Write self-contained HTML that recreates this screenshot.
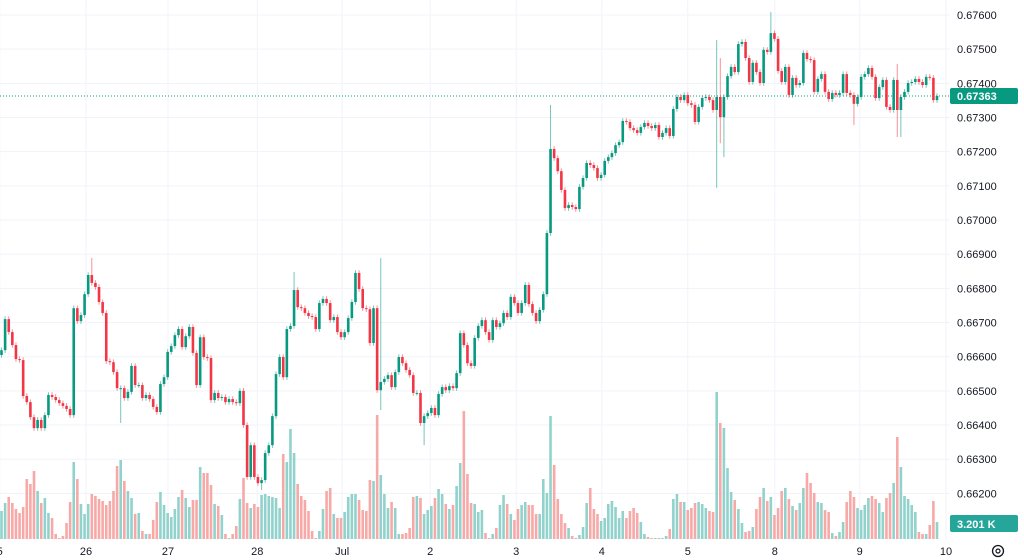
<!DOCTYPE html>
<html><head><meta charset="utf-8">
<style>
html,body{margin:0;padding:0;background:#fff;}
body{width:1024px;height:560px;overflow:hidden;font-family:"Liberation Sans",sans-serif;}
svg{display:block;}
</style></head>
<body>
<svg id="chart" width="1024" height="560" xmlns="http://www.w3.org/2000/svg"></svg>
<script>
// ---- data (closes & highs/lows in 1e-5 units above 0.66000) ----
const closes = [
619,710,672,634,593,590,485,467,423,391,415,391,429,488,482,473,464,456,447,429,
742,704,722,783,839,816,804,760,728,587,584,555,508,508,479,497,573,517,517,479,
488,476,453,438,520,540,614,631,663,681,628,660,687,611,517,657,599,596,473,494,
479,482,467,476,467,464,500,400,248,341,248,230,239,318,341,426,549,599,540,681,
690,795,745,742,728,719,716,681,757,769,757,707,716,672,
657,672,713,760,845,798,742,739,640,742,502,526,535,546,511,555,599,581,561,546,
494,494,406,426,435,450,429,491,511,502,514,508,552,669,634,581,573,655,690,707,
672,649,707,687,698,728,716,775,757,728,757,810,754,728,704,737,783,962,1208,1181,
1143,1088,1035,1044,1038,1032,1097,1123,1167,1161,1152,1123,1132,1173,1184,1196,1219,1228,1290,1287,
1269,1263,1255,1272,1284,1275,1269,1278,1243,1255,1269,1246,1325,1360,
1351,1366,1342,1337,1287,1331,1357,1360,1351,1322,1360,1301,1360,1421,1448,1433,1515,1521,1474,1404,
1460,1433,1401,1498,1492,1547,1530,1436,1404,1448,1366,1416,1395,1401,1489,1471,1468,1375,1413,1427,
1375,1354,1372,1366,1372,1427,1372,1366,1340,1360,1419,1427,1445,1419,1357,1389,1410,1331,1322,1410,
1322,1360,1375,1401,1404,1413,1404,1395,1419,1416,1351,1363];
const firstOpen = 605;
const volumes = [
28,36,42,36,30,26,32,60,55,68,48,36,41,26,21,5,1,3,16,37,77,60,35,25,35,45,43,40,38,34,
38,48,73,79,58,48,41,25,26,8,5,5,19,37,47,34,26,22,30,42,49,41,32,39,39,72,66,66,54,35,
33,24,5,1,5,13,40,61,36,31,35,32,44,45,43,42,41,31,85,77,110,86,55,43,39,28,8,1,8,30,48,51,25,21,
21,27,42,45,45,39,29,28,59,58,124,64,45,31,37,31,5,5,6,11,42,43,41,25,29,33,41,50,45,35,
30,34,53,76,128,65,36,35,27,29,6,1,5,11,34,44,35,25,19,30,34,37,34,34,25,25,60,46,123,74,
40,25,16,11,3,1,4,12,36,51,30,25,18,21,35,38,32,21,28,21,28,31,26,17,5,2,1,1,1,1,3,10,40,45,
37,37,29,31,36,37,35,31,28,27,147,116,111,71,47,39,30,16,7,8,12,30,42,51,38,42,24,31,48,51,
40,33,29,36,51,66,56,46,37,36,29,27,6,3,7,17,37,48,42,31,29,34,41,43,40,36,27,41,46,56,
102,72,43,40,34,27,7,5,5,14,38,17];
const spikeIdx  = [25,33,72,81,105,117,152,198,199,200,213,236,248,249];
const spikeHigh = [889,null,null,848,889,null,1337,1527,1474,null,1609,null,1457,null];
const spikeLow  = [null,406,210,null,444,341,null,1094,1225,1184,null,1278,1243,1243];
const priceTicks = ["0.66200","0.66300","0.66400","0.66500","0.66600","0.66700","0.66800","0.66900","0.67000","0.67100","0.67200","0.67300","0.67400","0.67500","0.67600"];
const dayLabels = ["5","26","27","28","Jul","2","3","4","5","8","9","10"];
const dayIndex  = [-0.5,23.4,46.1,70.8,94.3,118.7,142.5,166.2,190,214.1,237.6,261.5];
const lastPriceLabel = "0.67363";
const volLabel = "3.201 K";

// ---- scales ----
const yP = v => 15 + (1600 - v) * 0.3417;
const xI = i => 1.5 + i * 3.612;
const yV = v => 539 - v * 1.0;
const priceVal = s => Math.round((parseFloat(s) - 0.66) * 1e5);

const svg = document.getElementById('chart');
const NS = 'http://www.w3.org/2000/svg';
function mk(tag, attrs, parent){ const e=document.createElementNS(NS,tag); for(const k in attrs) e.setAttribute(k,attrs[k]); (parent||svg).appendChild(e); return e; }

const GREEN='#089981', RED='#f23645', VGREEN='#92d2cc', VRED='#f7a9a7';

// grid
const grid = mk('g',{});


priceTicks.forEach(t=>{
  const l=mk('line',{x1:0,x2:950,y1:yP(priceVal(t)),y2:yP(priceVal(t)),stroke:'#f0f3fa','stroke-width':1},grid);
  
  
});
dayIndex.forEach(d=>{
  const l=mk('line',{x1:xI(d),x2:xI(d),y1:0,y2:540,stroke:'#f0f3fa','stroke-width':1},grid);
  
  
});

// volume
const vg = mk('g',{});


const opens = closes.map((c,i)=> i===0 ? firstOpen : closes[i-1]);
volumes.forEach((v,i)=>{
  const up = closes[i] >= opens[i];
  const r=mk('rect',{x:xI(i)-1.3,y:yV(v),width:2.6,height:Math.max(0.5,539-yV(v)),fill:up?VGREEN:VRED},vg);
  
  
});

// last price line
const pl=mk('line',{x1:0,x2:950,y1:yP(priceVal(lastPriceLabel)),y2:yP(priceVal(lastPriceLabel)),stroke:GREEN,'stroke-width':1,'stroke-dasharray':'1 2'});



// candles
const cg = mk('g',{});


closes.forEach((c,i)=>{
  const o=opens[i];
  const up=c>=o;
  let hi=Math.max(o,c)+8, lo=Math.min(o,c)-8;
  const s=spikeIdx.indexOf(i);
  if(s>=0){ if(spikeHigh[s]!==null) hi=spikeHigh[s]; if(spikeLow[s]!==null) lo=spikeLow[s]; }
  const col=up?GREEN:RED;
  const w=mk('line',{x1:xI(i),x2:xI(i),y1:yP(hi),y2:yP(lo),stroke:col,'stroke-width':1,opacity:0.55},cg);
  
  
  const top=yP(Math.max(o,c)), bot=yP(Math.min(o,c));
  const b=mk('rect',{x:xI(i)-1.3,y:top,width:2.6,height:Math.max(1,bot-top),fill:col},cg);
  
  
});

// price axis
const ax = mk('g',{});


priceTicks.forEach(t=>{
  const tx=mk('text',{x:957,y:yP(priceVal(t))+4,'font-size':11,fill:'#131722','font-family':'Liberation Sans, sans-serif'},ax);
  tx.textContent=t;
  
  
});
const lpBox=mk('rect',{x:950,y:yP(priceVal(lastPriceLabel))-8,width:68,height:16,rx:2,fill:GREEN},ax);


const lpT=mk('text',{x:957,y:yP(priceVal(lastPriceLabel))+4,'font-size':11,'font-weight':'bold',fill:'#fff'},ax);
lpT.textContent=lastPriceLabel;


const vBox=mk('rect',{x:950,y:515,width:68,height:17,rx:2,fill:'#26a69a'},ax);


const vT=mk('text',{x:957,y:528,'font-size':11,'font-weight':'bold',fill:'#fff'},ax);
vT.textContent=volLabel;



// time axis
const tax = mk('g',{});


dayLabels.forEach((d,k)=>{
  const tx=mk('text',{x:xI(dayIndex[k]),y:555,'font-size':11,fill:'#131722','text-anchor':'middle'},tax);
  tx.textContent=d;
  
  
});

// settings icon
const gear=mk('g',{transform:'translate(998,551)'});


mk('circle',{cx:0,cy:0,r:5.5,fill:'none',stroke:'#131722','stroke-width':1.3},gear);
mk('circle',{cx:0,cy:0,r:2,fill:'none',stroke:'#131722','stroke-width':1.2},gear);
</script>
</body></html>
